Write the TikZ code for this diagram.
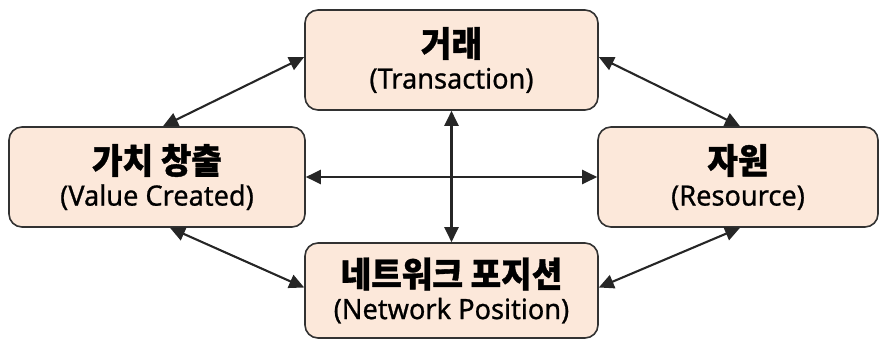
\documentclass[tikz,border=0pt]{standalone}
\usepackage{fontspec}
\usetikzlibrary{arrows.meta}
\newfontfamily\kor{Noto Sans CJK KR}[FakeStretch=0.95,FakeBold=1]
\newfontfamily\eng{Noto Sans}[FakeStretch=0.97,FakeBold=0.8]
\definecolor{boxfill}{RGB}{252,232,218}
\definecolor{boxline}{RGB}{50,50,50}
\newcommand{\boxfont}{\fontsize{28}{32}\selectfont\lineskiplimit=-40pt\relax}
\tikzset{
  box/.style={draw=boxline, line width=1.6pt, fill=boxfill, rounded corners=13pt,
    align=center, inner sep=0pt, text=black, font=\boxfont},
  link/.style={line width=2.1pt, draw=black!85, {Triangle[length=15pt,width=14pt]}-{Triangle[length=15pt,width=14pt]}},
}
\newcommand{\ktitle}[1]{{\kor\bfseries\fontsize{35}{32}\selectfont #1}}
\newcommand{\esub}[1]{{\eng\fontsize{28}{32}\selectfont #1}}
\begin{document}
\begin{tikzpicture}[x=1pt,y=-1pt]
\useasboundingbox (0,0) rectangle (883,343);
\node[box, minimum width=293pt, minimum height=100pt] (tr) at (451.5,60) {\ktitle{거래}\\\esub{(Transaction)}};
\node[box, minimum width=296pt, minimum height=100pt] (vc) at (157,177) {\ktitle{가치 창출}\\\esub{(Value Created)}};
\node[box, minimum width=280pt, minimum height=100pt] (rs) at (738,177) {\ktitle{자원}\\\esub{(Resource)}};
\node[box, minimum width=293pt, minimum height=95pt] (np) at (451.5,290.5) {\ktitle{네트워크 포지션}\\\esub{(Network Position)}};
\draw[link] ([xshift=6pt]vc.north) -- ([yshift=3pt]tr.west);
\draw[link] ([yshift=3pt]tr.east) -- ([xshift=2pt]rs.north);
\draw[link] ([xshift=13pt]vc.south) -- ([yshift=3pt]np.west);
\draw[link] ([yshift=3pt]np.east) -- ([xshift=2pt]rs.south);
\draw[link] (vc.east) -- (rs.west);
\draw[link] (tr.south) -- (np.north);
\end{tikzpicture}
\end{document}
